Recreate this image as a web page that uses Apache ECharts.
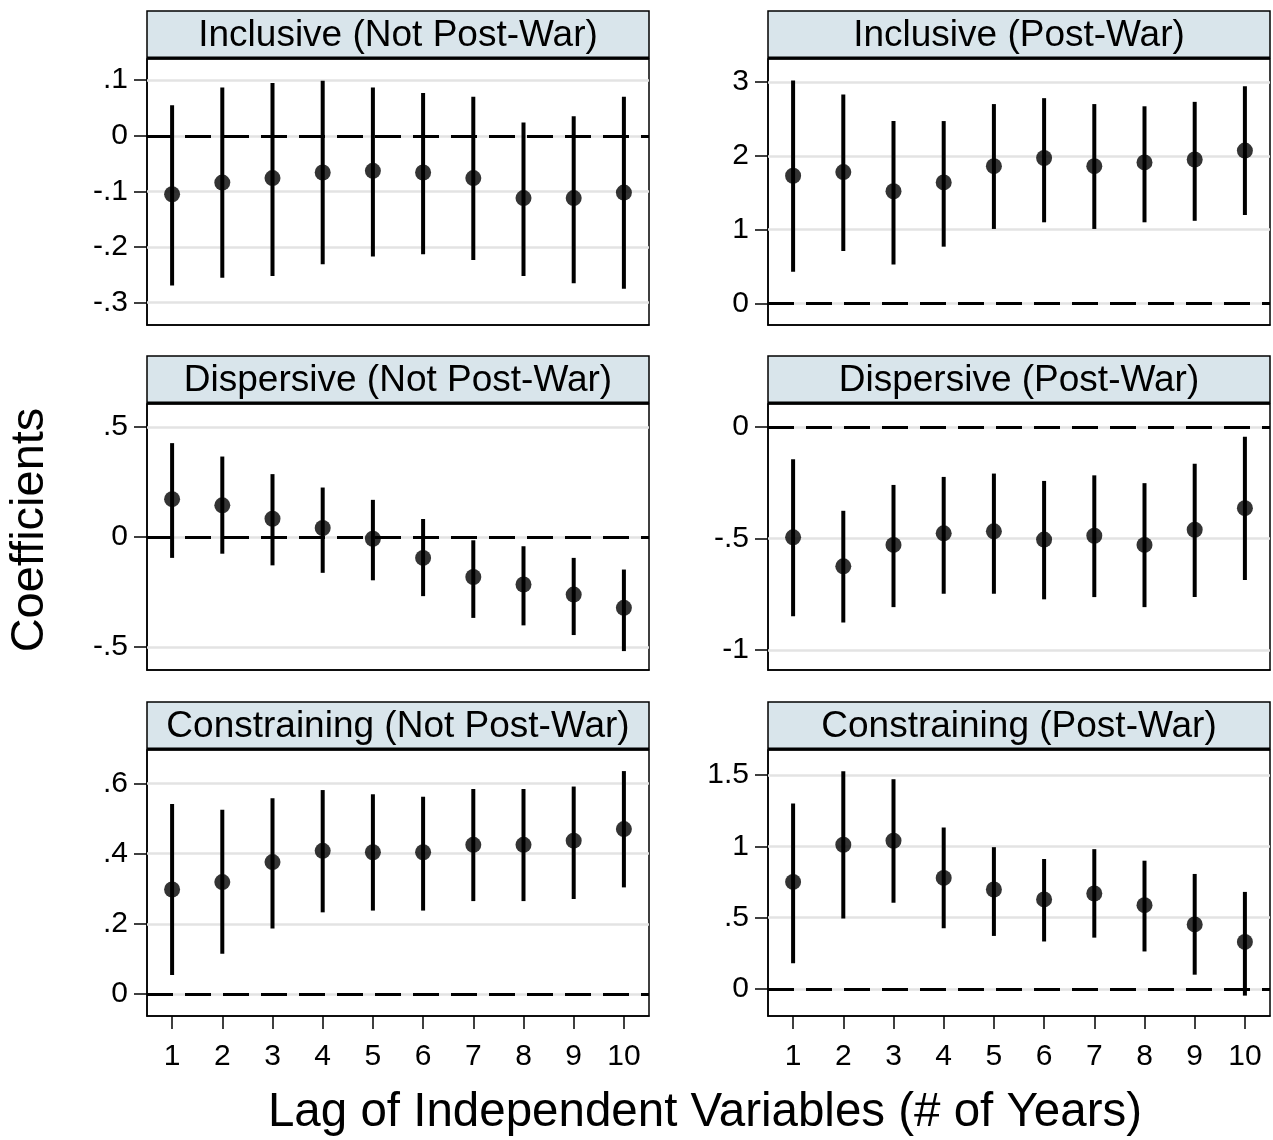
<!DOCTYPE html>
<html>
<head>
<meta charset="utf-8">
<script src="https://cdn.jsdelivr.net/npm/echarts@6/dist/echarts.min.js"></script>
<style>
  html, body { margin: 0; padding: 0; background: #fff; }
  #chart { width: 1273px; height: 1140px; }
</style>
</head>
<body>
<div id="chart"></div>
<script>
var lags = ['1', '2', '3', '4', '5', '6', '7', '8', '9', '10'];

// Inclusive (Not Post-War)
var inclNotEst = [-0.105, -0.084, -0.076, -0.066, -0.063, -0.066, -0.076, -0.112, -0.112, -0.102];
var inclNotLo  = [-0.269, -0.255, -0.252, -0.231, -0.217, -0.213, -0.223, -0.252, -0.265, -0.275];
var inclNotHi  = [0.055, 0.087, 0.095, 0.099, 0.087, 0.077, 0.070, 0.024, 0.035, 0.070];
var inclNotTicks = [-0.3, -0.2, -0.1, 0, 0.1];

// Inclusive (Post-War)
var inclPostEst = [1.73, 1.78, 1.52, 1.64, 1.86, 1.97, 1.86, 1.91, 1.95, 2.07];
var inclPostLo  = [0.43, 0.71, 0.53, 0.77, 1.01, 1.10, 1.01, 1.10, 1.12, 1.20];
var inclPostHi  = [3.02, 2.83, 2.47, 2.47, 2.70, 2.78, 2.70, 2.67, 2.73, 2.94];
var inclPostTicks = [0, 1, 2, 3];

// Dispersive (Not Post-War)
var dispNotEst = [0.172, 0.144, 0.083, 0.041, -0.008, -0.095, -0.182, -0.216, -0.262, -0.322];
var dispNotLo  = [-0.095, -0.076, -0.129, -0.163, -0.197, -0.269, -0.368, -0.402, -0.446, -0.519];
var dispNotHi  = [0.427, 0.366, 0.286, 0.225, 0.169, 0.082, -0.015, -0.042, -0.095, -0.148];
var dispNotTicks = [-0.5, 0, 0.5];

// Dispersive (Post-War)
var dispPostEst = [-0.494, -0.624, -0.528, -0.476, -0.467, -0.504, -0.487, -0.528, -0.460, -0.363];
var dispPostLo  = [-0.848, -0.876, -0.807, -0.747, -0.747, -0.772, -0.762, -0.807, -0.762, -0.685];
var dispPostHi  = [-0.144, -0.375, -0.259, -0.223, -0.208, -0.241, -0.216, -0.251, -0.164, -0.043];
var dispPostTicks = [-1, -0.5, 0];

// Constraining (Not Post-War)
var consNotEst = [0.298, 0.319, 0.376, 0.408, 0.404, 0.404, 0.425, 0.425, 0.437, 0.470];
var consNotLo  = [0.055, 0.115, 0.187, 0.233, 0.238, 0.238, 0.265, 0.265, 0.271, 0.304];
var consNotHi  = [0.541, 0.525, 0.558, 0.581, 0.569, 0.562, 0.584, 0.584, 0.591, 0.635];
var consNotTicks = [0, 0.2, 0.4, 0.6];

// Constraining (Post-War)
var consPostEst = [0.751, 1.012, 1.040, 0.779, 0.698, 0.628, 0.670, 0.588, 0.453, 0.330];
var consPostLo  = [0.181, 0.495, 0.605, 0.426, 0.372, 0.333, 0.360, 0.263, 0.100, -0.047];
var consPostHi  = [1.302, 1.528, 1.472, 1.133, 0.995, 0.912, 0.981, 0.900, 0.807, 0.681];
var consPostTicks = [0, 0.5, 1, 1.5];

var panelTitles = ['Inclusive (Not Post-War)', 'Inclusive (Post-War)',
                   'Dispersive (Not Post-War)', 'Dispersive (Post-War)',
                   'Constraining (Not Post-War)', 'Constraining (Post-War)'];

var panels = [
  { est: inclNotEst, lo: inclNotLo, hi: inclNotHi, ticks: inclNotTicks, min: -0.34, max: 0.138 },
  { est: inclPostEst, lo: inclPostLo, hi: inclPostHi, ticks: inclPostTicks, min: -0.29, max: 3.31 },
  { est: dispNotEst, lo: dispNotLo, hi: dispNotHi, ticks: dispNotTicks, min: -0.605, max: 0.605 },
  { est: dispPostEst, lo: dispPostLo, hi: dispPostHi, ticks: dispPostTicks, min: -1.089, max: 0.104 },
  { est: consNotEst, lo: consNotLo, hi: consNotHi, ticks: consNotTicks, min: -0.062, max: 0.695 },
  { est: consPostEst, lo: consPostLo, hi: consPostHi, ticks: consPostTicks, min: -0.19, max: 1.677 }
];

var FONT = '"Liberation Sans", Arial, sans-serif';
var colLeft = [147, 768];
var plotW = 502;
var rowTop = [59, 404, 750];
var plotH = 266;
var headH = 47;

function stataLabel(v) {
  var s = String(+Number(v).toFixed(2));
  return s.replace(/^0\./, '.').replace(/^-0\./, '-.');
}

var chart = echarts.init(document.getElementById('chart'), null, { renderer: 'canvas' });

var grids = [], xAxes = [], yAxes = [], series = [], graphics = [];

panels.forEach(function (p, i) {
  var col = i % 2, row = Math.floor(i / 2);
  var bottomRow = row === 2;
  grids.push({
    left: colLeft[col], top: rowTop[row], width: plotW, height: plotH,
    show: true, borderColor: '#000', borderWidth: 1.5, backgroundColor: '#fff'
  });
  xAxes.push({
    type: 'category', gridIndex: i, data: lags, boundaryGap: true, position: 'bottom',
    axisLine: { show: true, onZero: false, lineStyle: { color: '#000', width: 1.5 } },
    axisTick: { show: bottomRow, alignWithLabel: true, length: 13, lineStyle: { color: '#000', width: 1.5 } },
    axisLabel: { show: bottomRow, fontSize: 30, color: '#000', fontFamily: FONT, margin: 26 },
    splitLine: { show: false }
  });
  yAxes.push({
    type: 'value', gridIndex: i, min: p.min, max: p.max,
    axisLine: { show: true, onZero: false, lineStyle: { color: '#000', width: 1.5 } },
    axisTick: { show: true, length: 13, customValues: p.ticks, lineStyle: { color: '#000', width: 1.5 } },
    axisLabel: { fontSize: 30, color: '#000', fontFamily: FONT, margin: 19,
                 customValues: p.ticks, formatter: stataLabel },
    splitLine: { show: false }
  });
  // grey gridlines at tick values
  series.push({
    type: 'line', xAxisIndex: i, yAxisIndex: i, data: [], silent: true, z: 1,
    markLine: {
      silent: true, symbol: 'none', label: { show: false }, animation: false, z: 1,
      lineStyle: { color: '#e3e3e3', width: 2.5, type: 'solid' },
      data: p.ticks.map(function (t) { return { yAxis: t }; })
    }
  });
  // dashed zero reference line
  series.push({
    type: 'line', xAxisIndex: i, yAxisIndex: i, data: [], silent: true, z: 2,
    markLine: {
      silent: true, symbol: 'none', label: { show: false }, animation: false, z: 2,
      lineStyle: { color: '#000', width: 3, type: [26, 12] },
      data: [{ yAxis: 0 }]
    }
  });
  // confidence intervals
  series.push({
    type: 'custom', xAxisIndex: i, yAxisIndex: i, z: 3, animation: false,
    data: lags.map(function (l, k) { return [k, p.lo[k], p.hi[k]]; }),
    encode: { x: 0, y: [1, 2] },
    renderItem: function (params, api) {
      var a = api.coord([api.value(0), api.value(1)]);
      var b = api.coord([api.value(0), api.value(2)]);
      return {
        type: 'line',
        shape: { x1: a[0], y1: a[1], x2: b[0], y2: b[1] },
        style: { stroke: '#000', lineWidth: 4 }
      };
    }
  });
  // point estimates
  series.push({
    type: 'scatter', xAxisIndex: i, yAxisIndex: i, z: 4, animation: false,
    symbol: 'circle', symbolSize: 16,
    itemStyle: { color: '#000' },
    data: lags.map(function (l, k) { return [k, p.est[k]]; })
  });
  // panel header strip
  var hx = colLeft[col], hy = rowTop[row] - headH - 1;
  graphics.push({
    type: 'group', silent: true, z: 10,
    children: [
      { type: 'rect', shape: { x: hx, y: hy, width: plotW, height: headH },
        style: { fill: '#d9e5eb', stroke: '#000', lineWidth: 1.5 } },
      { type: 'line', shape: { x1: hx, y1: hy + headH, x2: hx + plotW, y2: hy + headH },
        style: { stroke: '#000', lineWidth: 3 } },
      { type: 'text', x: hx + plotW / 2, y: hy + headH / 2 + 1,
        style: { text: panelTitles[i], font: '37px ' + FONT, fill: '#000',
                 textAlign: 'center', textVerticalAlign: 'middle',
                 align: 'center', verticalAlign: 'middle' } }
    ]
  });
});

graphics.push({
  type: 'text', x: 705, y: 1113, silent: true,
  style: { text: 'Lag of Independent Variables (# of Years)', font: '47.5px ' + FONT, fill: '#000',
           textAlign: 'center', textVerticalAlign: 'middle', align: 'center', verticalAlign: 'middle' }
});
graphics.push({
  type: 'text', x: 30, y: 530, rotation: Math.PI / 2, silent: true,
  style: { text: 'Coefficients', font: '47px ' + FONT, fill: '#000',
           textAlign: 'center', textVerticalAlign: 'middle', align: 'center', verticalAlign: 'middle' }
});

var option = {
  animation: false,
  backgroundColor: '#fff',
  grid: grids,
  xAxis: xAxes,
  yAxis: yAxes,
  series: series,
  graphic: graphics
};
chart.setOption(option, true);
</script>
</body>
</html>
